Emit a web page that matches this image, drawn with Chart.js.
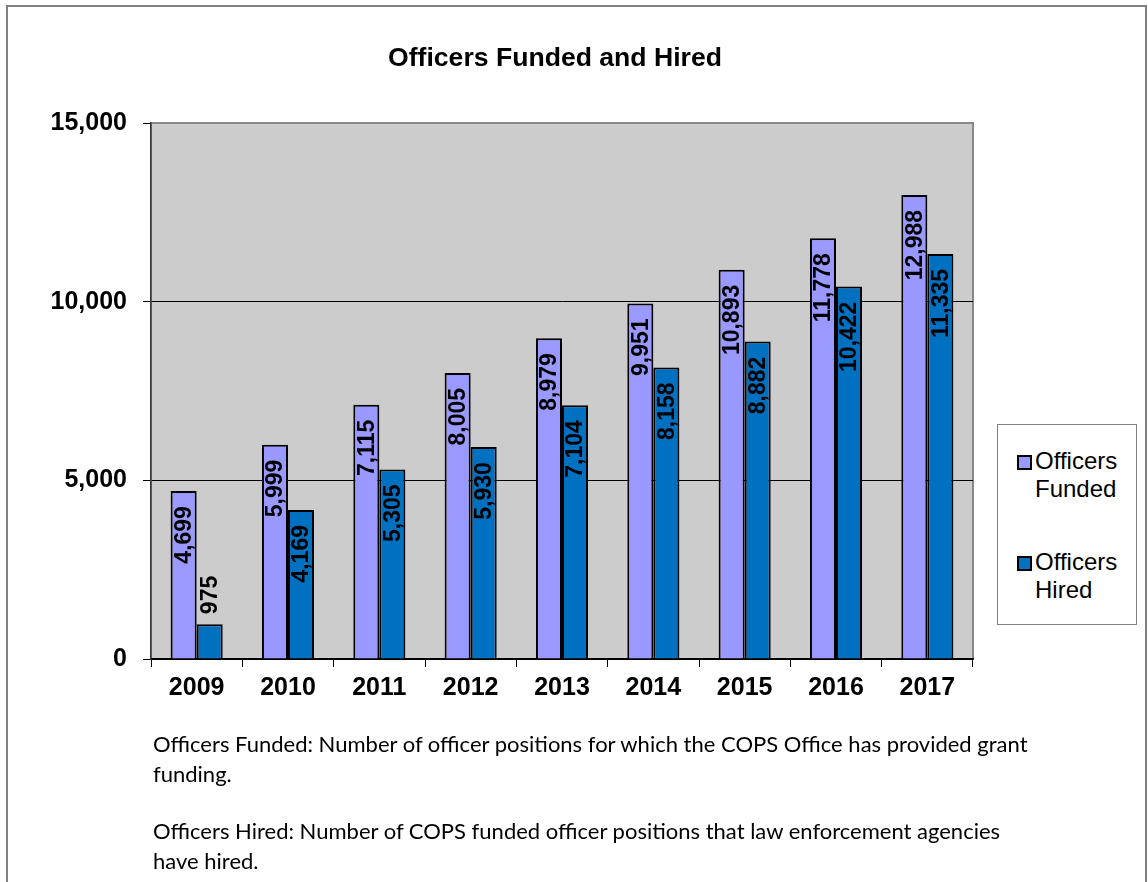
<!DOCTYPE html>
<html>
<head>
<meta charset="utf-8">
<script src="https://cdn.jsdelivr.net/npm/chart.js@4.4.1/dist/chart.umd.min.js"></script>
<style>
  html, body { margin: 0; padding: 0; background: #fff; }
  body { width: 1148px; height: 882px; position: relative; overflow: hidden; }
  #frame { position: absolute; left: 6px; top: 5px; width: 1137px; height: 950px; border: 2px solid #808080; }
  #chart { position: absolute; left: 0; top: 0; }
  #title { position: absolute; left: 255px; width: 600px; top: 42px; text-align: center;
    font: bold 26.6px "Liberation Sans", Arial, sans-serif; color: #000; }
  #legend { position: absolute; left: 997px; top: 424px; width: 140px; height: 201px;
    border: 1px solid #808080; background: #fff; box-sizing: border-box;
    font: 24px "Liberation Sans", Arial, sans-serif; color: #000; }
  .item { position: absolute; left: 19px; line-height: 28px; padding-left: 18px; }
  .item i { position: absolute; left: 0; top: 8px; width: 11px; height: 11px; border: 2px solid #000; }
  #notes { position: absolute; left: 153px; top: 729px; font: 22px Lato, "Open Sans", sans-serif; color: #000; line-height: 30px; }
  #notes p { margin: 0 0 27px 0; }
</style>
</head>
<body>
<div id="frame"></div>
<canvas id="chart" width="1148" height="882"></canvas>
<div id="title">Officers Funded and Hired</div>
<div id="legend"></div>
<div id="notes">
  <p>Officers Funded: Number of officer positions for which the COPS Office has provided grant<br>funding.</p>
  <p>Officers Hired: Number of COPS funded officer positions that law enforcement agencies<br>have hired.</p>
</div>
<script>
const years = ['2009','2010','2011','2012','2013','2014','2015','2016','2017'];
const funded = [4699, 5999, 7115, 8005, 8979, 9951, 10893, 11778, 12988];
const hired = [975, 4169, 5305, 5930, 7104, 8158, 8882, 10422, 11335];
const yTicks = [0, 5000, 10000, 15000];
const seriesNames = [['Officers', 'Funded'], ['Officers', 'Hired']];
const seriesColors = ['#9999FF', '#0070C0'];

const fmt = v => v.toLocaleString('en-US');

// gray plot area with border
const plotBg = {
  id: 'plotBg',
  beforeDraw(chart) {
    const { ctx, chartArea: a } = chart;
    ctx.save();
    ctx.fillStyle = '#CCCCCC';
    ctx.fillRect(a.left, a.top, a.right - a.left, a.bottom - a.top);
    ctx.strokeStyle = '#888888';
    ctx.lineWidth = 2;
    ctx.strokeRect(a.left, a.top, a.right - a.left, a.bottom - a.top);
    ctx.restore();
  }
};

// vertical value labels, inside end of bar unless it doesn't fit
const barLabels = {
  id: 'barLabels',
  afterDatasetsDraw(chart) {
    const ctx = chart.ctx;
    ctx.save();
    ctx.font = 'bold 23px "Liberation Sans", Arial, sans-serif';
    ctx.fillStyle = '#000';
    ctx.textBaseline = 'middle';
    chart.data.datasets.forEach((ds, di) => {
      chart.getDatasetMeta(di).data.forEach((bar, i) => {
        const txt = fmt(ds.data[i]);
        const w = ctx.measureText(txt).width;
        const h = bar.base - bar.y;
        ctx.save();
        ctx.translate(bar.x + 1, bar.y);
        ctx.rotate(-Math.PI / 2);
        if (h > w + 22) {
          ctx.textAlign = 'right';
          ctx.fillText(txt, -15, 0);
        } else {
          ctx.textAlign = 'left';
          ctx.fillText(txt, 10, 0);
        }
        ctx.restore();
      });
    });
    ctx.restore();
  }
};

const axisFont = { family: '"Liberation Sans", Arial, sans-serif', size: 25, weight: 'bold' };

new Chart(document.getElementById('chart'), {
  type: 'bar',
  data: {
    labels: years,
    datasets: [
      { label: seriesNames[0].join(' '), data: funded, backgroundColor: seriesColors[0], borderColor: '#000', borderWidth: 2 },
      { label: seriesNames[1].join(' '), data: hired, backgroundColor: seriesColors[1], borderColor: '#000', borderWidth: 2 }
    ]
  },
  options: {
    responsive: false,
    animation: false,
    layout: { padding: { left: 11, top: 123, right: 175, bottom: 163 } },
    datasets: { bar: { categoryPercentage: 0.57, barPercentage: 1.0 } },
    plugins: { legend: { display: false }, title: { display: false }, tooltip: { enabled: false } },
    scales: {
      x: {
        afterFit: s => { s.height = 60; },
        grid: { drawOnChartArea: false, drawTicks: true, tickLength: 8, color: '#000', offset: true },
        border: { color: '#000', width: 1.5 },
        ticks: { color: '#000', font: axisFont, padding: 6 }
      },
      y: {
        min: 0, max: 15000,
        afterFit: s => { s.width = 140; },
        afterBuildTicks: s => { s.ticks = yTicks.map(v => ({ value: v })); },
        grid: {
          color: c => (c.tick && c.tick.value === 15000) ? '#888888' : '#000',
          lineWidth: 1, tickLength: 8, tickColor: '#000'
        },
        border: { color: '#333', width: 1.5 },
        ticks: { color: '#000', font: axisFont, padding: 16, callback: v => fmt(v) }
      }
    }
  },
  plugins: [plotBg, barLabels]
});

// legend box built from series arrays
const legend = document.getElementById('legend');
const tops = [22, 123];
seriesNames.forEach((name, i) => {
  const d = document.createElement('div');
  d.className = 'item';
  d.style.top = tops[i] + 'px';
  d.innerHTML = `<i style="background:${seriesColors[i]}"></i>${name[0]}<br>${name[1]}`;
  legend.appendChild(d);
});
</script>
</body>
</html>
